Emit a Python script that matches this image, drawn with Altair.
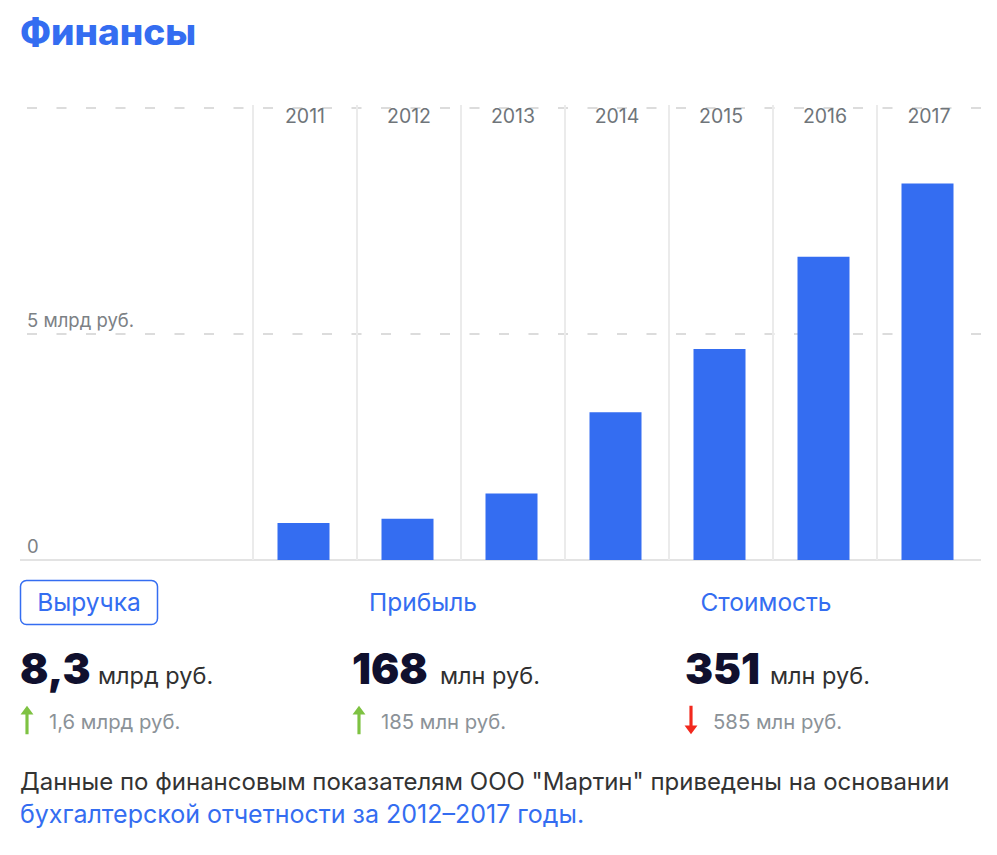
import altair as alt
import pandas as pd

# ---------------- data ----------------
years = [2011, 2012, 2013, 2014, 2015, 2016, 2017]
revenue_bn = [0.82, 0.91, 1.47, 3.27, 4.67, 6.71, 8.33]
grid_values = [5, 10]
tick_values = [0, 5]
tick_labels = ["0", "5 млрд руб."]
title_text = ["Финансы"]
tabs = ["Выручка", "Прибыль", "Стоимость"]
big_values = ["8,3", "168", "351"]
units = ["млрд руб.", "млн руб.", "млн руб."]
deltas = ["1,6 млрд руб.", "185 млн руб.", "585 млн руб."]
directions = ["up", "up", "down"]
footer_line1 = ['Данные по финансовым показателям ООО "Мартин" приведены на основании']
footer_line2 = ["бухгалтерской отчетности за 2012–2017 годы."]

# ---------------- layout / style ----------------
FONT = "Inter"
BLUE = "#346df1"
W, H = 961, 452
OX, OY = 20, 108  # page position of plot origin


def px(x):
    return x - OX


def py(y):
    return y - OY


xscale = alt.Scale(domain=[2008.2596, 2017.5], zero=False, nice=False, padding=0)
yscale = alt.Scale(domain=[0, 10], zero=True, nice=False, padding=0)

bars_df = pd.DataFrame({"year": years, "revenue": revenue_bn})
grid_df = pd.DataFrame({"v": grid_values})
ticks_df = pd.DataFrame({"v": tick_values, "label": tick_labels})
years_df = pd.DataFrame({"year": years})

grid = alt.Chart(grid_df).mark_rule(color="#dcdcdc", strokeWidth=2, strokeDash=[10, 19.5]).encode(
    y=alt.Y("v:Q", scale=yscale, axis=None)
)
base = alt.Chart(pd.DataFrame({"v": [0]})).mark_rule(color="#e3e3e3", strokeWidth=2).encode(
    y=alt.Y("v:Q", scale=yscale, axis=None)
)
seps = alt.Chart(years_df).transform_calculate(sep="datum.year - 0.5").mark_rule(
    color="#ebebeb", strokeWidth=2
).encode(
    x=alt.X("sep:Q", scale=xscale, axis=None),
    y=alt.value(-3),
    y2=alt.value(H),
)
bars = alt.Chart(bars_df).mark_bar(size=52, color=BLUE, xOffset=-1.5).encode(
    x=alt.X("year:Q", scale=xscale, axis=None),
    y=alt.Y("revenue:Q", scale=yscale, axis=None),
)
year_labels = alt.Chart(years_df).mark_text(
    font=FONT, fontSize=19.5, color="#6f757a", baseline="alphabetic", align="center"
).encode(
    x=alt.X("year:Q", scale=xscale, axis=None),
    y=alt.value(15),
    text=alt.Text("year:N"),
)
tick_text = alt.Chart(ticks_df).mark_text(
    font=FONT, fontSize=18.5, color="#7c8185", baseline="alphabetic", align="left", dy=-7
).encode(
    y=alt.Y("v:Q", scale=yscale, axis=None),
    x=alt.value(7),
    text="label:N",
)

layers = [grid, base, seps, bars, year_labels, tick_text]

# title
layers.append(
    alt.Chart(pd.DataFrame({"t": title_text})).mark_text(
        font=FONT, fontSize=37, fontWeight=800, color=BLUE, baseline="alphabetic", align="left"
    ).encode(x=alt.value(px(20)), y=alt.value(py(45)), text="t:N")
)

# tab box around first tab
layers.append(
    alt.Chart(pd.DataFrame({"t": tabs[:1]})).mark_rect(
        fill="white", stroke=BLUE, strokeWidth=1.5, cornerRadius=6
    ).encode(
        x=alt.value(px(20.5)), x2=alt.value(px(157.5)), y=alt.value(py(580.5)), y2=alt.value(py(624.5))
    )
)

tab_centers = [89, 423, 766]
col_starts = [20, 352, 685]
unit_starts = [98, 440, 770]
arrow_x = [27, 359, 691]

UP = "M0,-1 L0.45,-0.38 L0.11,-0.38 L0.11,1 L-0.11,1 L-0.11,-0.38 L-0.45,-0.38 Z"
DOWN = "M0,1 L0.45,0.38 L0.11,0.38 L0.11,-1 L-0.11,-1 L-0.11,0.38 L-0.45,0.38 Z"

for i in range(3):
    layers.append(
        alt.Chart(pd.DataFrame({"t": [tabs[i]]})).mark_text(
            font=FONT, fontSize=24.5, color=BLUE, baseline="alphabetic", align="center"
        ).encode(x=alt.value(px(tab_centers[i])), y=alt.value(py(611)), text="t:N")
    )
    layers.append(
        alt.Chart(pd.DataFrame({"t": [big_values[i]]})).mark_text(
            font=FONT, fontSize=42, fontWeight=900, color="#10102e", baseline="alphabetic", align="left"
        ).encode(x=alt.value(px(col_starts[i])), y=alt.value(py(684)), text="t:N")
    )
    layers.append(
        alt.Chart(pd.DataFrame({"t": [units[i]]})).mark_text(
            font=FONT, fontSize=23.5, color="#303030", baseline="alphabetic", align="left"
        ).encode(x=alt.value(px(unit_starts[i])), y=alt.value(py(684)), text="t:N")
    )
    up = directions[i] == "up"
    layers.append(
        alt.Chart(pd.DataFrame({"d": [directions[i]]})).mark_point(
            shape=UP if up else DOWN, filled=True, size=820, opacity=1,
            color="#7ec242" if up else "#f2281d", strokeWidth=0,
        ).encode(x=alt.value(px(arrow_x[i])), y=alt.value(py(720)))
    )
    layers.append(
        alt.Chart(pd.DataFrame({"t": [deltas[i]]})).mark_text(
            font=FONT, fontSize=20.3, color="#8b9298", baseline="alphabetic", align="left"
        ).encode(x=alt.value(px(arrow_x[i] + 22)), y=alt.value(py(729)), text="t:N")
    )

layers.append(
    alt.Chart(pd.DataFrame({"t": footer_line1})).mark_text(
        font=FONT, fontSize=24, color="#333333", baseline="alphabetic", align="left"
    ).encode(x=alt.value(px(20)), y=alt.value(py(790)), text="t:N")
)
layers.append(
    alt.Chart(pd.DataFrame({"t": footer_line2})).mark_text(
        font=FONT, fontSize=25, color=BLUE, baseline="alphabetic", align="left"
    ).encode(x=alt.value(px(20)), y=alt.value(py(823)), text="t:N")
)

chart = alt.layer(*layers).properties(
    width=W,
    height=H,
    padding={"left": 12, "top": 100, "right": 8, "bottom": 287},
    autosize="none",
    background="white",
).configure_view(stroke=None)

chart.save("out.html", embed_options={"renderer": "svg", "actions": False})
